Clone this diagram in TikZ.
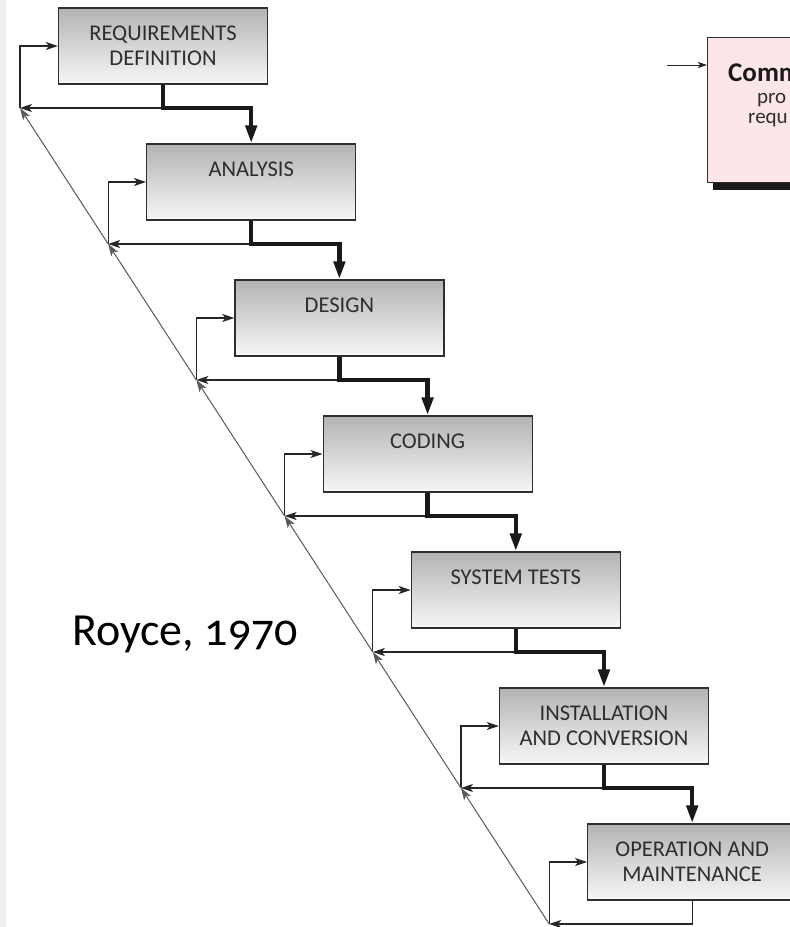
\documentclass[tikz,border=0pt]{standalone}
\usepackage{fontspec}
\setmainfont{Carlito}
\newfontfamily\roycefont[Numbers=OldStyle]{Carlito}
\usetikzlibrary{arrows.meta,shadows}
\definecolor{pinkbox}{HTML}{FCE6EA}
\definecolor{inkgray}{HTML}{2E2E2E}
\begin{document}
\begin{tikzpicture}[x=1pt,y=-1pt,
    stage/.style = {draw=inkgray, line width=1.2pt, top color=black!30, bottom color=black!3,
                    minimum width=209pt, minimum height=76pt, inner sep=0pt, align=center,
                    text=inkgray, font=\fontsize{22.5}{25}\selectfont},
    flow/.style  = {line width=4.5pt, line join=miter, black!90, -{Triangle[length=18pt,width=11pt]}},
    back/.style  = {line width=1.2pt, black!85, -{Stealth[length=12pt,width=8pt,inset=3pt]}},
    diag/.style  = {line width=1pt, black!65, -{Stealth[length=12pt,width=8pt,inset=3pt]}}]
    \useasboundingbox (0,0) rectangle (790,927);
    \clip (0,0) rectangle (790,927);
    \fill[black!6] (0,0) rectangle (6,927);

    \node[stage] (req) at (163,46)    {REQUIREMENTS\\DEFINITION};
    \node[stage] (ana) at (251.2,182) {ANALYSIS\\\mbox{}};
    \node[stage] (des) at (339.4,318) {DESIGN\\\mbox{}};
    \node[stage] (cod) at (427.6,454) {CODING\\\mbox{}};
    \node[stage] (tst) at (515.8,590) {SYSTEM TESTS\\\mbox{}};
    \node[stage] (ins) at (604,726)   {INSTALLATION\\AND CONVERSION};
    \node[stage] (ops) at (692.2,862) {OPERATION AND\\MAINTENANCE};

    \coordinate (j0) at (20,108);
    \coordinate (j1) at (108.2,244);
    \coordinate (j2) at (196.4,380);
    \coordinate (j3) at (284.6,516);
    \coordinate (j4) at (372.8,652);
    \coordinate (j5) at (461,788);
    \coordinate (j6) at (549.2,924);

    \draw[back] (req.south |- j0) -- (j0);
    \draw[back] (ana.south |- j1) -- (j1);
    \draw[back] (des.south |- j2) -- (j2);
    \draw[back] (cod.south |- j3) -- (j3);
    \draw[back] (tst.south |- j4) -- (j4);
    \draw[back] (ins.south |- j5) -- (j5);
    \draw[back] (ops.south) |- (j6);

    \draw[back] (j0) |- (req.west);
    \draw[back] (j1) |- (ana.west);
    \draw[back] (j2) |- (des.west);
    \draw[back] (j3) |- (cod.west);
    \draw[back] (j4) |- (tst.west);
    \draw[back] (j5) |- (ins.west);
    \draw[back] (j6) |- (ops.west);

    \draw[diag] (j1) -- (j0);
    \draw[diag] (j2) -- (j1);
    \draw[diag] (j3) -- (j2);
    \draw[diag] (j4) -- (j3);
    \draw[diag] (j5) -- (j4);
    \draw[diag] (j6) -- (j5);

    \draw[flow] (req.south) -- (req.south |- j0) -| (ana.north);
    \draw[flow] (ana.south) -- (ana.south |- j1) -| (des.north);
    \draw[flow] (des.south) -- (des.south |- j2) -| (cod.north);
    \draw[flow] (cod.south) -- (cod.south |- j3) -| (tst.north);
    \draw[flow] (tst.south) -- (tst.south |- j4) -| (ins.north);
    \draw[flow] (ins.south) -- (ins.south |- j5) -| (ops.north);

    \node[draw=inkgray, line width=1pt, fill=pinkbox, anchor=north west, minimum width=130pt,
          minimum height=145pt, inner sep=0pt,
          drop shadow={shadow xshift=5pt, shadow yshift=-7pt, fill=black!90, opacity=1}] (comm) at (707,37) {};
    \coordinate (cin) at (667,65);
    \draw[line width=1pt, black!85, -{Stealth[length=9pt,width=6pt,inset=2pt]}] (cin) -- (cin -| comm.west);
    \node[anchor=base west, inner sep=0pt, text=black!90, font=\bfseries\fontsize{27}{27}\selectfont] (commhead) at (728,81) {Comm};
    \node[anchor=base west, inner sep=0pt, text=inkgray, font=\fontsize{21}{21}\selectfont] (commline1) at (757,103) {pro};
    \node[anchor=base west, inner sep=0pt, text=inkgray, font=\fontsize{21}{21}\selectfont] (commline2) at (748,123) {requ};

    \node[anchor=base west, inner sep=0pt, font=\roycefont\fontsize{46}{46}\selectfont] (royce) at (72,645) {Royce, 1970};
\end{tikzpicture}
\end{document}
